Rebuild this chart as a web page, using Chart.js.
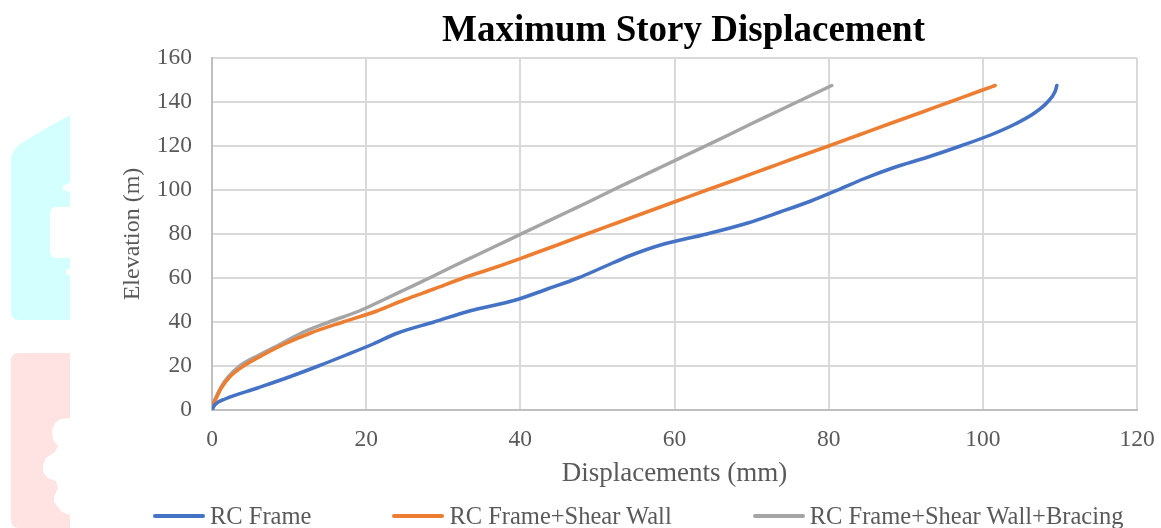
<!DOCTYPE html>
<html>
<head>
<meta charset="utf-8">
<title>Maximum Story Displacement</title>
<script src="https://cdn.jsdelivr.net/npm/chart.js@4.4.1/dist/chart.umd.min.js"></script>
<style>
  html, body { margin: 0; padding: 0; background: #fff; }
  #wrap { position: relative; width: 1161px; height: 528px; overflow: hidden; }
  #marks, #c { position: absolute; left: 0; top: 0; }
  #legend {
    position: absolute; top: 503px; left: 153px;
    display: flex; align-items: center;
    font-family: "Liberation Serif", "Times New Roman", serif;
    font-size: 24.5px; line-height: 26px; color: #595959; white-space: nowrap;
  }
  #legend .item { display: flex; align-items: center; margin-right: 81px; }
  #legend .swatch { width: 52px; height: 4px; border-radius: 2px; margin-right: 5px; }
</style>
</head>
<body>
<div id="wrap">
  <svg id="marks" width="1161" height="528" viewBox="0 0 1161 528">
    <path fill="#D4FFFF" d="M70 115 L63 119 L50 126 L33 136 L20 144 L14 150 L11 157 L11 312 Q11 320 19 320 L70 320 L70 276 L66 274 L66 270 L70 268 L70 258 L56 258 Q50 258 50 250 L50 215 Q50 207 56 207 L70 207 L70 192 L63 190 L63 186 L70 183 Z"/>
    <path fill="#FFE3E3" d="M19 353 L70 353 L70 418 L60 419 L55 423 L52 430 L53 440 L58 446 L55 452 L46 458 L43 465 L43 472 L48 478 L56 481 L58 488 L54 497 L54 502 L58 507 L62 512 L70 515 L70 528 L19 528 Q11 528 11 520 L11 361 Q11 353 19 353 Z"/>
  </svg>
  <canvas id="c" width="1161" height="528"></canvas>
  <div id="legend"></div>
</div>
<script>
// Story elevations (m) and the peak lateral displacement (mm) at each level
const elevation = [0, 2.5, 5, 10, 15, 20, 25, 30, 35, 40, 45, 50, 55, 60, 65, 70, 75, 80,
                   85, 90, 95, 100, 105, 110, 115, 120, 125, 130, 135, 140, 145, 147.5];

const rcFrame = [0, 0.4, 1.7, 5.9, 10.0, 13.8, 17.4, 20.9, 24.1, 28.8, 33.4, 39.4, 43.5, 47.5,
                 50.8, 54.1, 58.2, 64.2, 69.5, 73.7, 77.7, 81.2, 84.5, 88.3, 92.9, 97.1,
                 101.0, 104.2, 106.7, 108.4, 109.4, 109.6];

const rcFrameShearWall = [0, 0.15, 0.5, 1.2, 2.3, 4.1, 6.6, 9.4, 12.8, 17.0, 21.4, 24.9, 28.8,
                          32.6, 36.9, 40.9, 44.8, 48.6, 52.5, 56.4, 60.3, 64.2, 68.2, 72.1,
                          76.0, 80.0, 83.9, 87.8, 91.8, 95.7, 99.6, 101.6];

const rcFrameShearWallBracing = [0, 0.12, 0.4, 1.1, 2.1, 3.6, 6.1, 8.9, 11.6, 15.2, 19.1, 22.2,
                                 25.2, 28.2, 31.1, 34.1, 37.1, 40.1, 43.1, 46.1, 49.1, 52.0,
                                 55.0, 58.0, 61.0, 64.0, 67.0, 69.9, 72.9, 75.9, 78.9, 80.4];

const seriesNames = ['RC Frame', 'RC Frame+Shear Wall', 'RC Frame+Shear Wall+Bracing'];
const seriesColors = ['#4472C4', '#ED7D31', '#A5A5A5'];
const seriesValues = [rcFrame, rcFrameShearWall, rcFrameShearWallBracing];

const xTicks = [0, 20, 40, 60, 80, 100, 120];
const yTicks = [0, 20, 40, 60, 80, 100, 120, 140, 160];

const serif = '"Liberation Serif", "Times New Roman", serif';

function toPoints(values) {
  return values.map((v, i) => ({ x: v, y: elevation[i] }));
}

// Keep the chart title centred over the plotting area rather than the whole canvas
const centreTitle = {
  id: 'centreTitle',
  afterLayout(chart) {
    const t = chart.titleBlock;
    if (!t) return;
    const mid = (chart.chartArea.left + chart.chartArea.right) / 2 + 9;
    const half = (t.right - t.left) / 2;
    t.left = mid - half;
    t.right = mid + half;
  }
};

new Chart(document.getElementById('c'), {
  type: 'scatter',
  data: {
    datasets: seriesValues.map((vals, i) => ({
      label: seriesNames[i],
      data: toPoints(vals),
      showLine: true,
      borderColor: seriesColors[i],
      backgroundColor: seriesColors[i],
      borderWidth: 3.5,
      borderCapStyle: 'round',
      pointRadius: 0,
      cubicInterpolationMode: 'monotone'
    }))
  },
  options: {
    responsive: false,
    animation: false,
    layout: { padding: { left: 0, right: 24, top: 0, bottom: 0 } },
    plugins: {
      legend: { display: false },
      tooltip: { enabled: false },
      title: {
        display: true,
        text: 'Maximum Story Displacement',
        color: '#000',
        font: { family: serif, size: 37, weight: 'bold' },
        padding: { top: 9, bottom: 4.6 }
      }
    },
    scales: {
      x: {
        type: 'linear', min: 0, max: 120,
        afterBuildTicks(s) { s.ticks = xTicks.map(v => ({ value: v })); },
        ticks: { color: '#595959', font: { family: serif, size: 23.5 }, padding: 16, maxRotation: 0 },
        grid: { color: '#D9D9D9', lineWidth: 2, drawTicks: false },
        border: { color: '#BFBFBF', width: 2 },
        title: {
          display: true, text: 'Displacements (mm)', color: '#595959',
          font: { family: serif, size: 27 }, padding: { top: 0, bottom: 37.6 }
        },
        afterFit(s) { s.height = 118; s.paddingLeft = 0; s.paddingRight = 0; }
      },
      y: {
        type: 'linear', min: 0, max: 160,
        afterBuildTicks(s) { s.ticks = yTicks.map(v => ({ value: v })); },
        ticks: { color: '#595959', font: { family: serif, size: 23.5 }, padding: 20 },
        grid: { color: '#D9D9D9', lineWidth: 2, drawTicks: false },
        border: { color: '#BFBFBF', width: 2 },
        title: {
          display: true, text: 'Elevation (m)', color: '#595959',
          font: { family: serif, size: 24 }, padding: { top: 118.6, bottom: 0 }
        },
        afterFit(s) { s.width = 212; s.paddingTop = 0; s.paddingBottom = 0; }
      }
    }
  },
  plugins: [centreTitle]
});

// Legend row under the axis title
const legend = document.getElementById('legend');
seriesNames.forEach((name, i) => {
  const item = document.createElement('div');
  item.className = 'item';
  const sw = document.createElement('span');
  sw.className = 'swatch';
  sw.style.background = seriesColors[i];
  const label = document.createElement('span');
  label.textContent = name;
  item.appendChild(sw);
  item.appendChild(label);
  legend.appendChild(item);
});
</script>
</body>
</html>
